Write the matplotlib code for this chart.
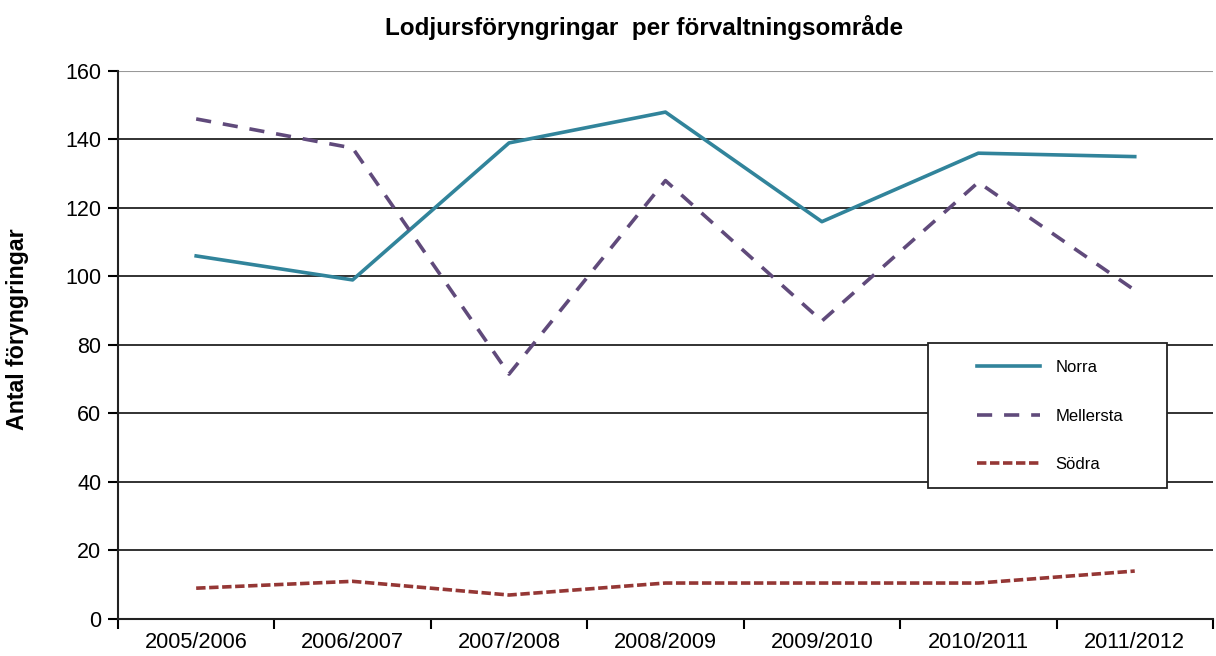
import numpy as np
import matplotlib.pyplot as plt
from matplotlib.patches import Rectangle

plt.rcParams['font.family'] = ['Liberation Sans', 'DejaVu Sans']

seasons = ['2005/2006', '2006/2007', '2007/2008', '2008/2009',
           '2009/2010', '2010/2011', '2011/2012']
norra = [106, 99, 139, 148, 116, 136, 135]
mellersta = [146, 137.5, 71.5, 128, 87, 127.5, 96]
sodra = [9, 11, 7, 10.5, 10.5, 10.5, 14]

fig = plt.figure(figsize=(12.16, 6.56), dpi=100)
ax = fig.add_axes([0.097, 0.0564, 0.9005, 0.8354])

x = np.arange(len(seasons)) + 0.5
lw = 2.6
ax.plot(x, norra, color='#31849B', lw=lw, label='Norra')
ax.plot(x, mellersta, color='#604A7B', lw=lw, dashes=(4.2, 3.3), label='Mellersta')
ax.plot(x, sodra, color='#953735', lw=lw, dashes=(2.6, 1.0), label='Södra')

ax.set_xlim(0, len(seasons))
ax.set_ylim(0, 160)
ax.set_yticks(np.arange(0, 161, 20))
ax.set_xticks(np.arange(0, len(seasons) + 1))
ax.set_xticklabels([])
ax.set_xticks(x, minor=True)
ax.set_xticklabels(seasons, minor=True)
ax.tick_params(axis='x', which='minor', length=0, pad=9, labelsize=15.7)
ax.tick_params(axis='x', which='major', length=7, width=1.5, direction='out')
ax.tick_params(axis='y', length=7, width=1.5, labelsize=15.5, pad=5)

for v in range(20, 160, 20):
    ax.axhline(v, color='#222222', lw=1.3, zorder=0)
ax.axhline(160, color='#999999', lw=1.5, zorder=0)

for s in ['top', 'right']:
    ax.spines[s].set_visible(False)
for s in ['left', 'bottom']:
    ax.spines[s].set_linewidth(1.5)
    ax.spines[s].set_color('#222222')

fig.text(18 / 1216, 1 - 329 / 656, 'Antal föryngringar', fontsize=16.7,
         fontweight='bold', rotation=90, ha='center', va='center')
fig.text(644 / 1216, 1 - 27 / 656, 'Lodjursföryngringar  per förvaltningsområde',
         fontsize=17.5, fontweight='bold', ha='center', va='center')

# legend box
ax.add_patch(Rectangle(((928 - 118) / 1095, (619 - 488) / 548), 239 / 1095, 145 / 548,
                       transform=ax.transAxes, facecolor='white', edgecolor='#222222',
                       lw=1.3, zorder=5))
leg = ax.legend(loc='upper left', bbox_to_anchor=((977 - 118) / 1095, (619 - 360) / 548),
                borderaxespad=0, borderpad=0, frameon=False, fontsize=12,
                handlelength=3.8, labelspacing=2.02, handletextpad=0.9)
leg.set_zorder(6)

fig.savefig('out.png', dpi=100)
